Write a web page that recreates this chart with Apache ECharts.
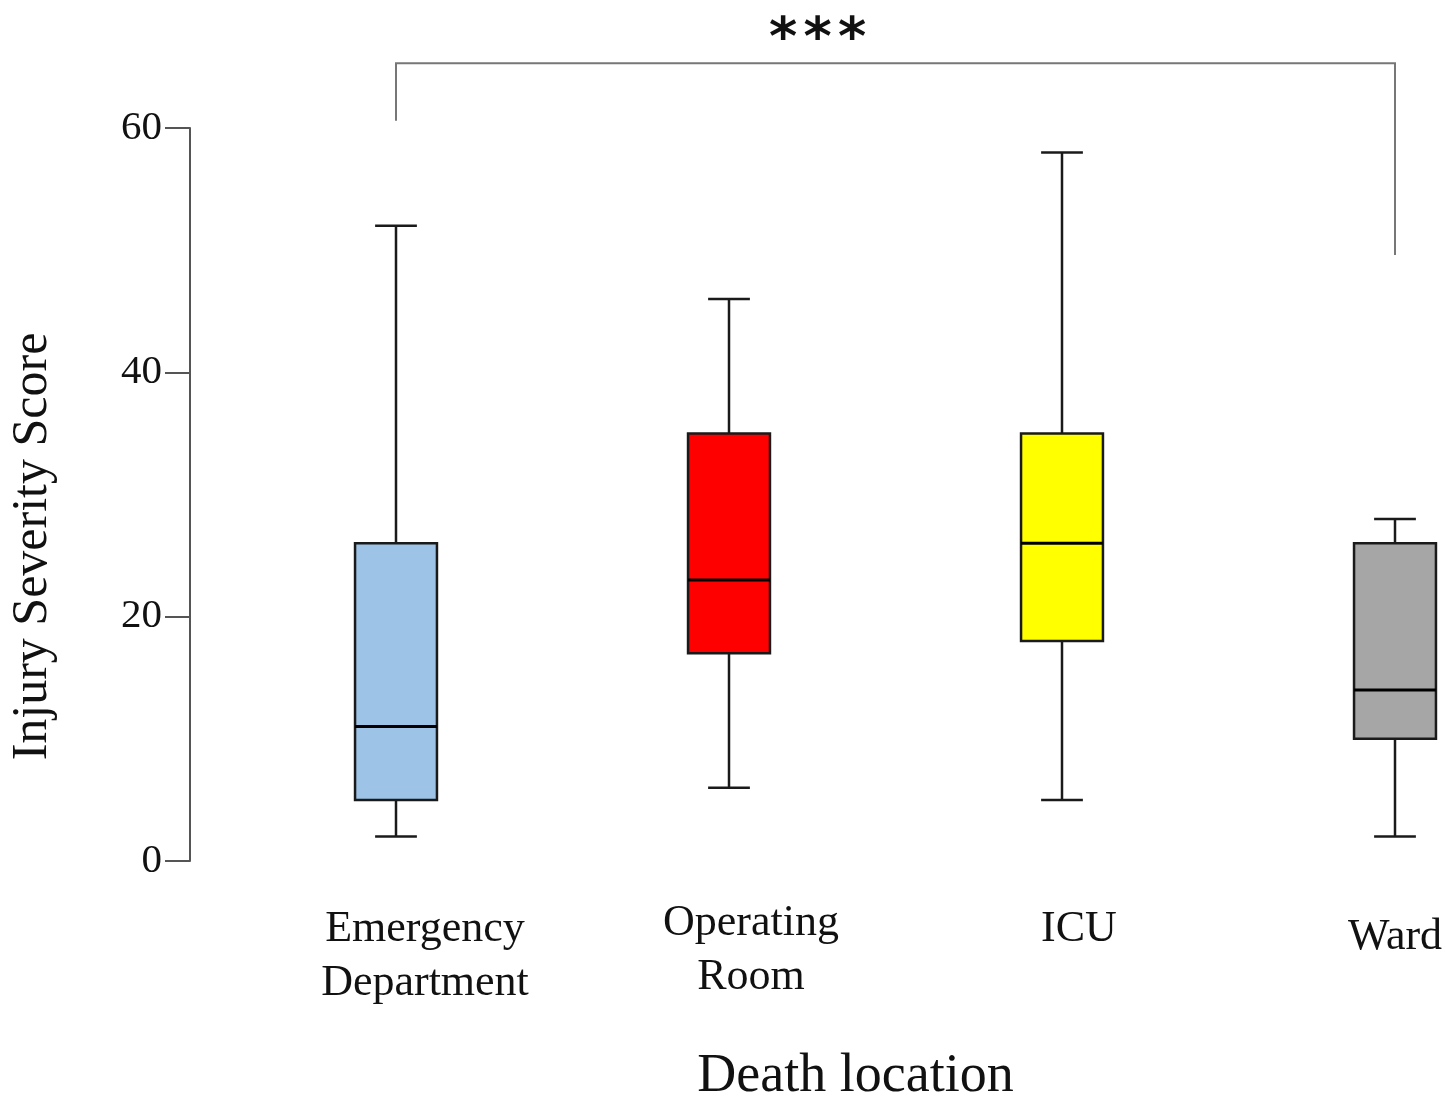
<!DOCTYPE html>
<html>
<head>
<meta charset="utf-8">
<script src="https://cdn.jsdelivr.net/npm/echarts@6/dist/echarts.min.js"></script>
<style>html,body{margin:0;padding:0;background:#fff}#c{width:1446px;height:1097px}</style>
</head>
<body>
<div id="c"></div>
<script>
const categories = ['Emergency\nDepartment', 'Operating\nRoom', 'ICU', 'Ward'];
const minVals    = [2, 6, 5, 2];
const q1Vals     = [5, 17, 18, 10];
const medianVals = [11, 23, 26, 14];
const q3Vals     = [26, 35, 35, 26];
const maxVals    = [52, 46, 58, 28];
const boxColors  = ['#9DC3E6', '#FF0000', '#FFFF00', '#A6A6A6'];
const yTicks     = [0, 20, 40, 60];
// significance bracket between first and last group
const sigFrom = 0, sigTo = 3;
const sigLeftBottom = 60.6, sigTop = 65.3, sigRightBottom = 49.6;
const sigLabel = '***';

const SERIF = "'Liberation Serif', 'Times New Roman', serif";

const boxData = categories.map((c, i) => [i, minVals[i], q1Vals[i], medianVals[i], q3Vals[i], maxVals[i]]);

// per-label nudges to mimic the reference's placement
const labelPads = [[6, 0, 0, 58], [0, 0, 0, 44], [6, 0, 0, 34], [14, 0, 0, 0]];

const chart = echarts.init(document.getElementById('c'));
chart.setOption({
  backgroundColor: '#ffffff',
  animation: false,
  grid: { left: 229.5, right: -115.5, top: 128, bottom: 236, containLabel: false, outerBoundsMode: 'none' },
  xAxis: {
    type: 'category',
    data: categories.map((c, i) => ({
      value: c,
      textStyle: { padding: labelPads[i] }
    })),
    axisLine: { show: false },
    axisTick: { show: false },
    splitLine: { show: false },
    axisLabel: {
      interval: 0, margin: 35, color: '#111', fontFamily: SERIF, fontSize: 44, lineHeight: 54
    },
    name: 'Death location',
    nameLocation: 'middle',
    nameGap: 189,
    nameTextStyle: { color: '#111', fontFamily: SERIF, fontSize: 54, padding: [0, 80, 0, 0] }
  },
  yAxis: {
    type: 'value',
    min: 0, max: 60, interval: 20,
    offset: 39.5,
    axisLine: { show: true, lineStyle: { color: '#555', width: 2 } },
    axisTick: { show: true, inside: false, length: 25, lineStyle: { color: '#555', width: 2 } },
    splitLine: { show: false },
    axisLabel: {
      margin: 28, color: '#111', fontFamily: SERIF, fontSize: 41,
      formatter: v => (yTicks.indexOf(v) >= 0 ? String(v) : '')
    },
    name: 'Injury Severity Score',
    nameLocation: 'middle',
    nameGap: 132,
    nameRotate: 90,
    nameTextStyle: { color: '#111', fontFamily: SERIF, fontSize: 50, padding: [0, 104, 0, 0] }
  },
  series: [
    {
      type: 'custom',
      clip: false,
      data: boxData,
      encode: { x: 0, y: [1, 2, 3, 4, 5] },
      renderItem: function (params, api) {
        const i = api.value(0);
        const x = api.coord([i, 0])[0];
        const band = api.size([1, 0])[0];
        const bw = band * 0.246;
        const cw = bw * 0.51;
        const yMin = api.coord([i, api.value(1)])[1];
        const yQ1 = api.coord([i, api.value(2)])[1];
        const yMed = api.coord([i, api.value(3)])[1];
        const yQ3 = api.coord([i, api.value(4)])[1];
        const yMax = api.coord([i, api.value(5)])[1];
        const ls = { stroke: '#1a1a1a', lineWidth: 2.5 };
        return {
          type: 'group',
          children: [
            { type: 'line', shape: { x1: x, y1: yMax, x2: x, y2: yQ3 }, style: ls },
            { type: 'line', shape: { x1: x, y1: yQ1, x2: x, y2: yMin }, style: ls },
            { type: 'line', shape: { x1: x - cw / 2, y1: yMax, x2: x + cw / 2, y2: yMax }, style: ls },
            { type: 'line', shape: { x1: x - cw / 2, y1: yMin, x2: x + cw / 2, y2: yMin }, style: ls },
            { type: 'rect', shape: { x: x - bw / 2, y: yQ3, width: bw, height: yQ1 - yQ3 },
              style: { fill: boxColors[i], stroke: '#1a1a1a', lineWidth: 2.5 } },
            { type: 'line', shape: { x1: x - bw / 2, y1: yMed, x2: x + bw / 2, y2: yMed },
              style: { stroke: '#000', lineWidth: 3 } }
          ]
        };
      }
    },
    {
      type: 'custom',
      clip: false,
      silent: true,
      data: [[sigFrom, sigTo, sigLeftBottom, sigTop, sigRightBottom]],
      encode: { x: [0, 1], y: [2, 3, 4] },
      renderItem: function (params, api) {
        const a = api.coord([api.value(0), api.value(2)]);
        const t1 = api.coord([api.value(0), api.value(3)]);
        const t2 = api.coord([api.value(1), api.value(3)]);
        const b = api.coord([api.value(1), api.value(4)]);
        const mid = (t1[0] + t2[0]) / 2 - 78;
        const stars = sigLabel.split('').map((s, k) => ({
          type: 'text',
          style: {
            x: mid + (k - 1) * 34.5, y: t1[1] - 22, text: s,
            fill: '#111', font: "bold 54px 'DejaVu Sans', sans-serif",
            align: 'center', verticalAlign: 'middle'
          }
        }));
        return {
          type: 'group',
          children: [
            { type: 'polyline', shape: { points: [a, t1, t2, b] },
              style: { stroke: '#777', lineWidth: 2, fill: null } }
          ].concat(stars)
        };
      }
    }
  ]
});
</script>
</body>
</html>
